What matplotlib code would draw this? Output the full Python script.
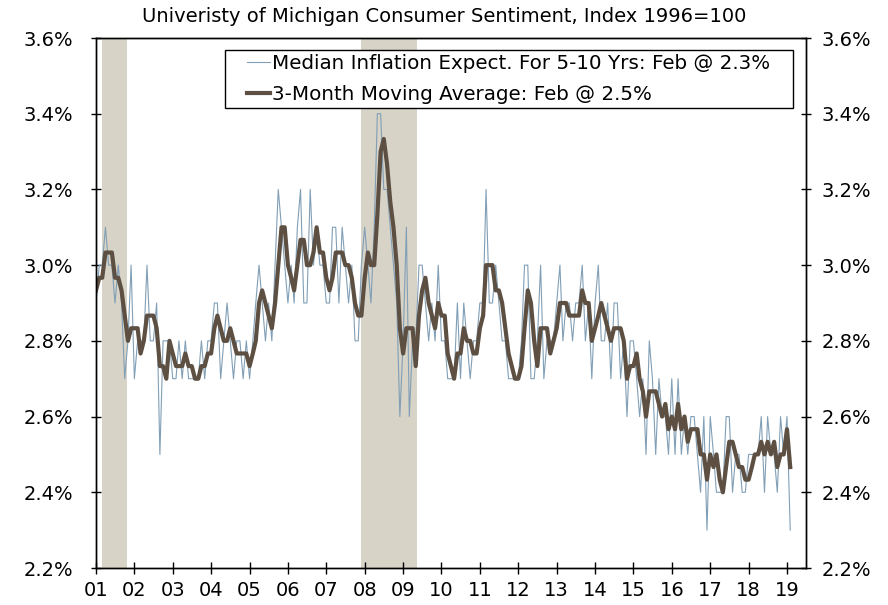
import pandas as pd
import matplotlib
matplotlib.use("Agg")
import matplotlib.pyplot as plt
from matplotlib.patches import Rectangle
from matplotlib.ticker import FuncFormatter

# Median expected inflation over next 5-10 years (%), monthly, Nov 2000 - Feb 2019
med_2000 = [2.9, 3.0]  # Nov, Dec (only feed the moving average)
med_2001 = [2.9, 3.0, 3.0, 3.1, 3.0, 3.0, 2.9, 3.0, 2.9, 2.7, 2.8, 3.0]
med_2002 = [2.7, 2.8, 2.8, 2.8, 3.0, 2.8, 2.8, 2.9, 2.5, 2.8, 2.8, 2.8]
med_2003 = [2.7, 2.7, 2.8, 2.7, 2.8, 2.7, 2.7, 2.7, 2.7, 2.8, 2.7, 2.8]
med_2004 = [2.8, 2.9, 2.9, 2.7, 2.8, 2.9, 2.8, 2.7, 2.8, 2.8, 2.7, 2.8]
med_2005 = [2.7, 2.8, 2.9, 3.0, 2.9, 2.8, 2.9, 2.8, 3.0, 3.2, 3.1, 3.0]
med_2006 = [2.9, 3.0, 2.9, 3.1, 3.2, 2.9, 2.9, 3.2, 3.0, 3.1, 3.0, 3.0]
med_2007 = [2.9, 2.9, 3.1, 3.1, 2.9, 3.1, 3.0, 2.9, 3.0, 2.8, 2.8, 3.0]
med_2008 = [3.1, 3.0, 2.9, 3.1, 3.4, 3.4, 3.2, 3.2, 3.1, 3.0, 2.9, 2.6]
med_2009 = [2.8, 3.1, 2.6, 2.8, 2.8, 3.0, 3.0, 2.9, 2.8, 2.9, 2.8, 3.0]
med_2010 = [2.8, 2.8, 2.7, 2.7, 2.7, 2.9, 2.7, 2.9, 2.8, 2.7, 2.8, 2.8]
med_2011 = [2.9, 2.9, 3.2, 2.9, 2.9, 3.0, 2.9, 2.8, 2.8, 2.7, 2.7, 2.7]
med_2012 = [2.7, 2.8, 3.0, 3.0, 2.7, 2.7, 2.8, 3.0, 2.7, 2.8, 2.8, 2.8]
med_2013 = [2.9, 3.0, 2.8, 2.9, 2.9, 2.8, 2.9, 2.9, 3.0, 2.8, 2.9, 2.7]
med_2014 = [2.9, 3.0, 2.8, 2.8, 2.9, 2.7, 2.9, 2.9, 2.7, 2.8, 2.6, 2.8]
med_2015 = [2.8, 2.7, 2.6, 2.7, 2.5, 2.8, 2.7, 2.5, 2.7, 2.6, 2.6, 2.5]
med_2016 = [2.7, 2.5, 2.7, 2.5, 2.6, 2.5, 2.6, 2.6, 2.5, 2.4, 2.6, 2.3]
med_2017 = [2.6, 2.5, 2.4, 2.4, 2.4, 2.6, 2.6, 2.4, 2.5, 2.5, 2.4, 2.4]
med_2018 = [2.5, 2.5, 2.5, 2.5, 2.6, 2.4, 2.6, 2.5, 2.5, 2.4, 2.6, 2.5]
med_2019 = [2.6, 2.3]

recessions = [("2001-03-01", "2001-10-25"), ("2007-12-01", "2009-05-10")]
years = list(range(2001, 2020))
year_labels = [f"{y % 100:02d}" for y in years]

median = (med_2000 + med_2001 + med_2002 + med_2003 + med_2004 + med_2005
          + med_2006 + med_2007 + med_2008 + med_2009 + med_2010 + med_2011
          + med_2012 + med_2013 + med_2014 + med_2015 + med_2016 + med_2017
          + med_2018 + med_2019)
df = pd.DataFrame({"median": median},
                  index=pd.date_range("2000-11-01", periods=len(median), freq="MS"))
df["ma3"] = df["median"].rolling(3).mean()

FS = 14
plt.rcParams["font.family"] = "DejaVu Sans"
fig = plt.figure(figsize=(8.88, 6.05), dpi=100)
ax = fig.add_axes([96 / 888, 1 - 568 / 605, 710 / 888, 530 / 605])

for s, e in recessions:
    ax.axvspan(pd.Timestamp(s), pd.Timestamp(e), color="#d7d3c7", lw=0, zorder=0)

ax.plot(df.index, df["median"], color="#819fb6", lw=0.8,
        label="Median Inflation Expect. For 5-10 Yrs: Feb @ 2.3%")
ax.plot(df.index, df["ma3"], color="#5d5043", lw=3.0,
        label="3-Month Moving Average: Feb @ 2.5%")

ax.set_xlim(pd.Timestamp("2001-01-01"), pd.Timestamp("2019-07-01"))
ax.set_ylim(2.2, 3.6)
yticks = [2.2, 2.4, 2.6, 2.8, 3.0, 3.2, 3.4, 3.6]
pct = FuncFormatter(lambda v, p: f"{v:.1f}%")
ax.set_yticks(yticks)
ax.yaxis.set_major_formatter(pct)
ax.set_xticks([pd.Timestamp(f"{y}-01-01") for y in years])
ax.set_xticklabels(year_labels)

ax.tick_params(axis="y", direction="inout", length=7, width=1, labelsize=FS, pad=13)
ax.tick_params(axis="x", direction="inout", length=8, width=1, labelsize=FS, pad=5)

ax2 = ax.twinx()
ax2.set_ylim(2.2, 3.6)
ax2.set_yticks(yticks)
ax2.yaxis.set_major_formatter(pct)
ax2.tick_params(axis="y", direction="inout", length=7, width=1, labelsize=FS, pad=8)

for a in (ax, ax2):
    for sp in a.spines.values():
        sp.set_color("black")
        sp.set_linewidth(1.0)

# legend box drawn by hand so it can be wider than its entries
ax.add_patch(Rectangle((225 / 888, 1 - 108 / 605), 568 / 888, 58 / 605,
                       transform=fig.transFigure, facecolor="white",
                       edgecolor="black", lw=1.0, zorder=4))
ax.legend(loc="upper left", bbox_to_anchor=(247 / 888, 1 - 54 / 605),
          bbox_transform=fig.transFigure, borderaxespad=0, borderpad=0,
          frameon=False, fontsize=14.3, handlelength=1.16, handletextpad=0.12,
          labelspacing=0.62)

fig.text(0.5, 1 - 16 / 605, "Univeristy of Michigan Consumer Sentiment, Index 1996=100",
         ha="center", va="center", fontsize=FS)

fig.savefig("out.png", dpi=100)
